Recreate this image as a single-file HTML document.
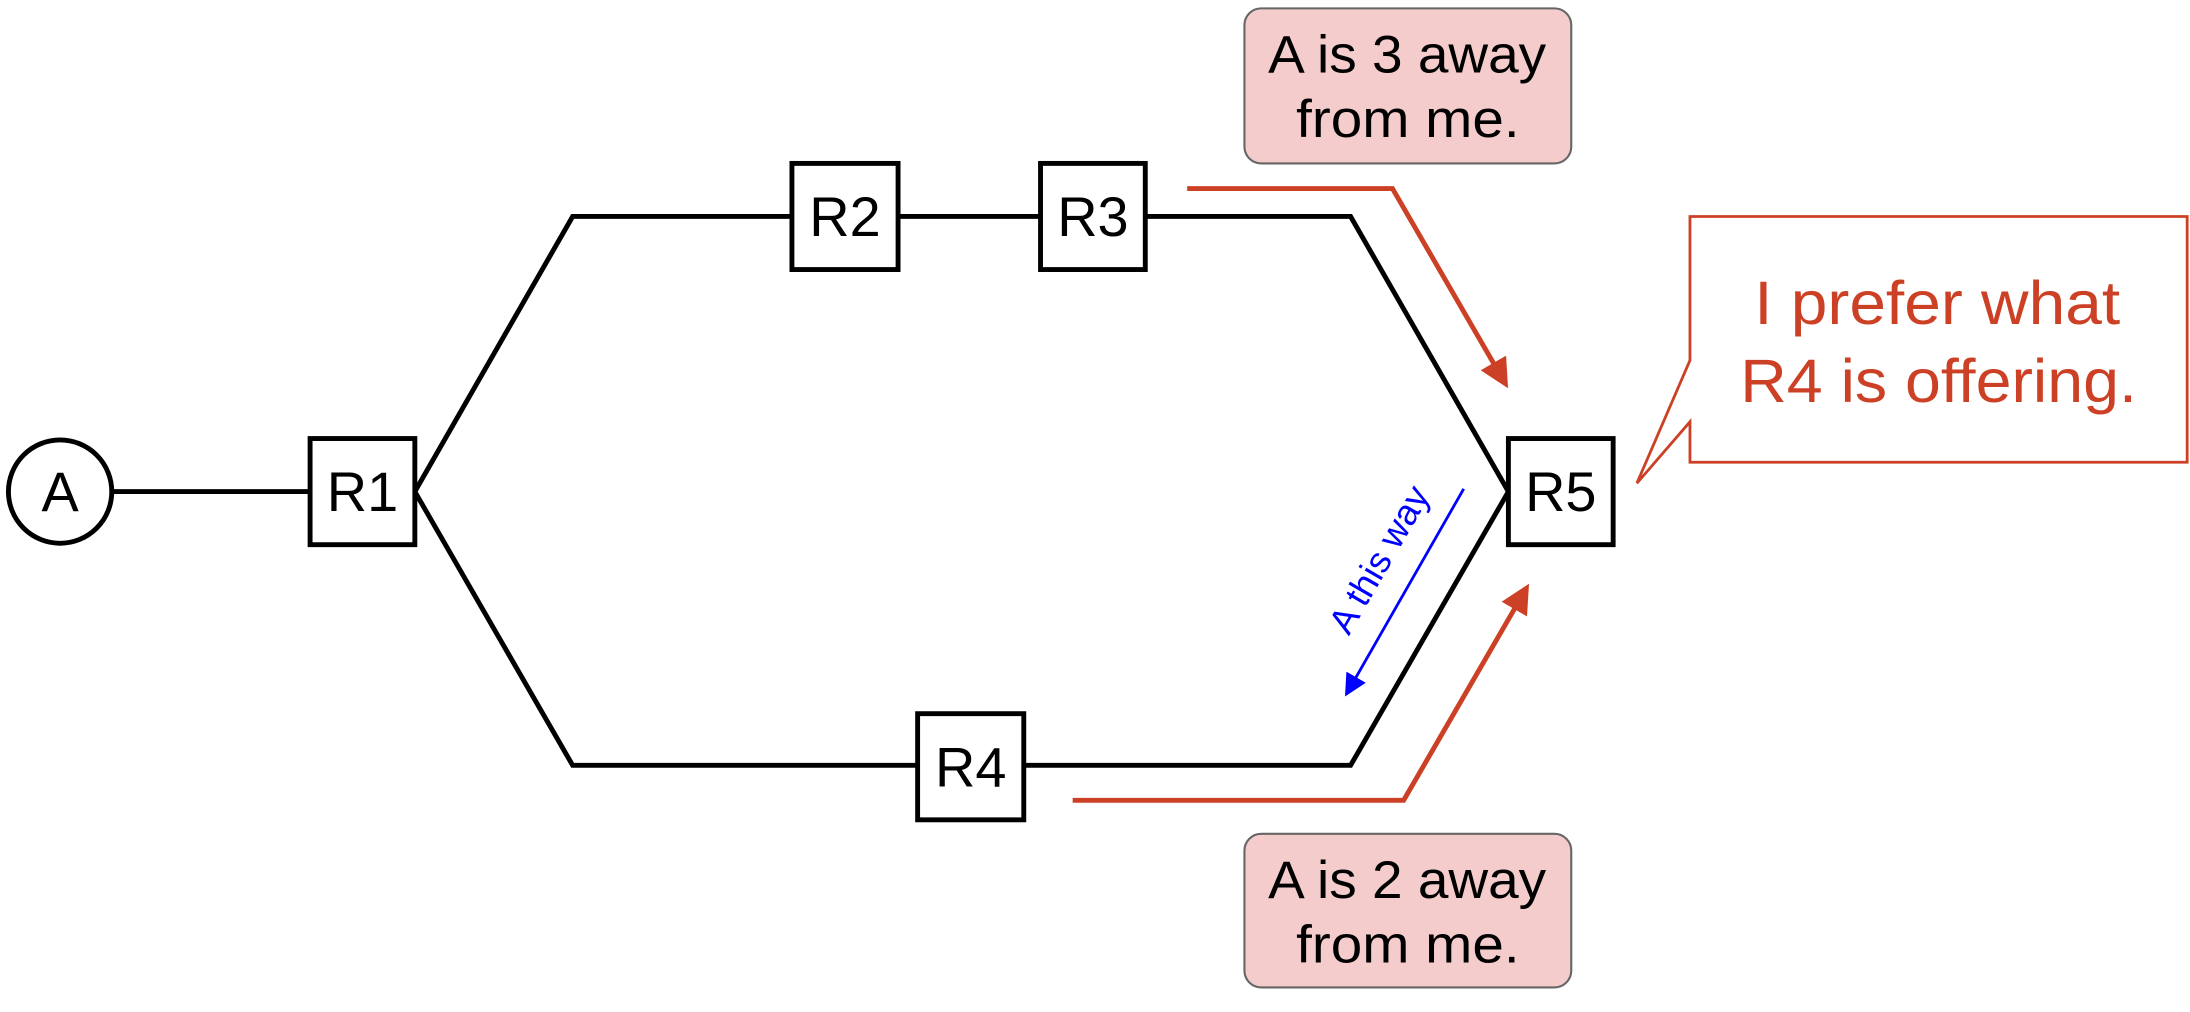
<!DOCTYPE html>
<html><head><meta charset="utf-8"><style>
html,body{margin:0;padding:0;background:#fff;}
svg{display:block;}
text{font-family:"Liberation Sans",sans-serif;}
</style></head><body>
<svg width="2190" height="1012" viewBox="0 0 1568 724.6" xmlns="http://www.w3.org/2000/svg">
<defs>
<marker id="ar" markerWidth="6" markerHeight="6" refX="5" refY="3" orient="auto" markerUnits="strokeWidth"><path d="M0,0 L6,3 L0,6 z" fill="#cc4125"/></marker>
<marker id="ab" markerWidth="8" markerHeight="8" refX="7" refY="4" orient="auto" markerUnits="strokeWidth"><path d="M0,0 L8,4 L0,8 z" fill="#0000ff"/></marker>
</defs>
<g fill="none" stroke="#000" stroke-width="3.5">
<line x1="80" y1="352" x2="222" y2="352"/>
<polyline points="297,352 410,155 567,155"/>
<line x1="643" y1="155" x2="745" y2="155"/>
<polyline points="820,155 967,155 1080,352"/>
<polyline points="297,352 410,548 657,548"/>
<polyline points="733,548 967,548 1080,352"/>
</g>
<g fill="#fff" stroke="#000" stroke-width="3.5">
<circle cx="43" cy="352" r="37"/>
<rect x="222" y="314" width="75" height="76"/>
<rect x="567" y="117" width="76" height="76"/>
<rect x="745" y="117" width="75" height="76"/>
<rect x="1080" y="314" width="75" height="76"/>
<rect x="657" y="511" width="76" height="76"/>
</g>
<g font-size="40" text-anchor="middle" fill="#000">
<text x="43" y="366">A</text>
<text x="259.5" y="366">R1</text>
<text x="605" y="169">R2</text>
<text x="782.5" y="169">R3</text>
<text x="1117.5" y="366">R5</text>
<text x="695" y="563">R4</text>
</g>
<g fill="none" stroke="#cc4125" stroke-width="3.5">
<polyline points="850,135 997,135 1078,275" marker-end="url(#ar)"/>
<polyline points="768,573 1005,573 1093,421" marker-end="url(#ar)"/>
</g>
<line x1="1048" y1="350" x2="964" y2="497" stroke="#0000ff" stroke-width="2" marker-end="url(#ab)"/>
<text x="0" y="0" font-size="26" fill="#0000ff" text-anchor="middle" transform="translate(995,405) rotate(-60)">A this way</text>
<rect x="891" y="6" width="234" height="111" rx="12" fill="#f4cccc" stroke="#666" stroke-width="1.5"/>
<rect x="891" y="597" width="234" height="110" rx="12" fill="#f4cccc" stroke="#666" stroke-width="1.5"/>
<g font-size="38" fill="#000">
<text x="908" y="52" textLength="199" lengthAdjust="spacingAndGlyphs">A is 3 away</text>
<text x="928" y="98" textLength="160" lengthAdjust="spacingAndGlyphs">from me.</text>
<text x="908" y="643" textLength="199" lengthAdjust="spacingAndGlyphs">A is 2 away</text>
<text x="928" y="689" textLength="160" lengthAdjust="spacingAndGlyphs">from me.</text>
</g>
<path d="M1210,155 L1566,155 L1566,331 L1210,331 L1210,302 L1172,346 L1210,258 Z" fill="#fff" stroke="#cc4125" stroke-width="2"/>
<g font-size="44" fill="#cc4125">
<text x="1256" y="232" textLength="262" lengthAdjust="spacingAndGlyphs">I prefer what</text>
<text x="1246" y="288" textLength="284" lengthAdjust="spacingAndGlyphs">R4 is offering.</text>
</g>
</svg>
</body></html>
